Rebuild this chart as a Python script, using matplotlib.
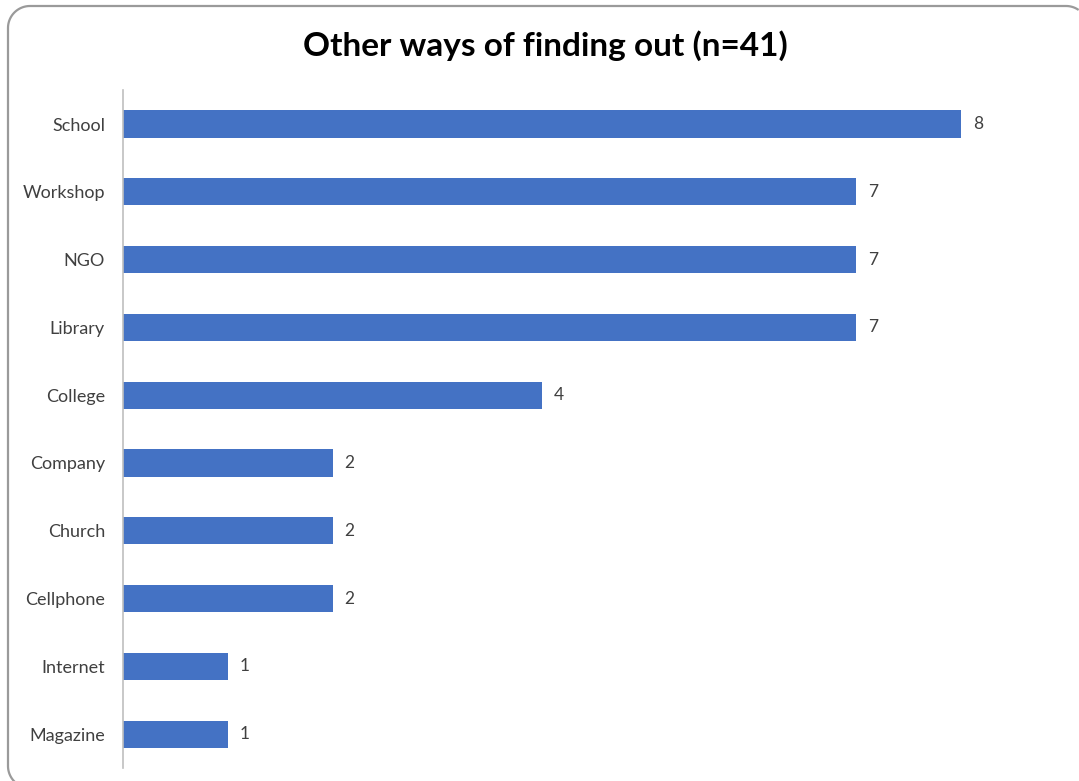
import numpy as np
import matplotlib.pyplot as plt
from matplotlib.path import Path
from matplotlib.patches import PathPatch

plt.rcParams['font.family'] = ['Lato', 'DejaVu Sans']

sources = ['School', 'Workshop', 'NGO', 'Library', 'College',
           'Company', 'Church', 'Cellphone', 'Internet', 'Magazine']
counts = [8, 7, 7, 7, 4, 2, 2, 2, 1, 1]
n_total = 41

bar_color = '#4472C4'
text_color = '#404040'


def frame_outline(x0, y0, x1, y1, r):
    # left and top edges of a rounded frame, in inches; the rest lies off the page
    pts = []
    for cx, cy, a0, a1 in [(x0 + r, y0 + r, 250, 180), (x0 + r, y1 - r, 180, 90),
                           (x1 - r, y1 - r, 90, 55)]:
        t = np.radians(np.linspace(a0, a1, 24))
        pts.append(np.column_stack([cx + r * np.cos(t), cy + r * np.sin(t)]))
    return Path(np.vstack(pts))


fig = plt.figure(figsize=(10.79, 7.81), dpi=100)

frame = PathPatch(frame_outline(0.08, -0.07, 10.88, 7.75, 0.22),
                  transform=fig.dpi_scale_trans, fill=False,
                  edgecolor='#9a9a9a', linewidth=1.6, zorder=-5)
fig.patches.append(frame)

ax = fig.add_axes([0.114, 0.0166, 0.874, 0.868])
ax.patch.set_alpha(0)

ypos = list(range(len(sources)))
ax.barh(ypos, counts, height=0.4, color=bar_color)
ax.set_ylim(len(sources) - 0.5, -0.5)
ax.set_xlim(0, 9)

for y, v in zip(ypos, counts):
    ax.text(v + 0.11, y, str(v), va='center', ha='left',
            fontsize=12.5, color=text_color)

ax.set_yticks(ypos)
ax.set_yticklabels(sources, fontsize=13, color=text_color)
ax.tick_params(axis='y', length=0, pad=13)
ax.set_xticks([])

for side in ['top', 'right', 'bottom']:
    ax.spines[side].set_visible(False)
ax.spines['left'].set_color('#bfbfbf')
ax.spines['left'].set_linewidth(1.2)

fig.text(0.505, 0.942, 'Other ways of finding out (n={})'.format(n_total),
         ha='center', va='center', fontsize=24, fontweight='bold', color='black')

fig.savefig('out.png', dpi=100)
